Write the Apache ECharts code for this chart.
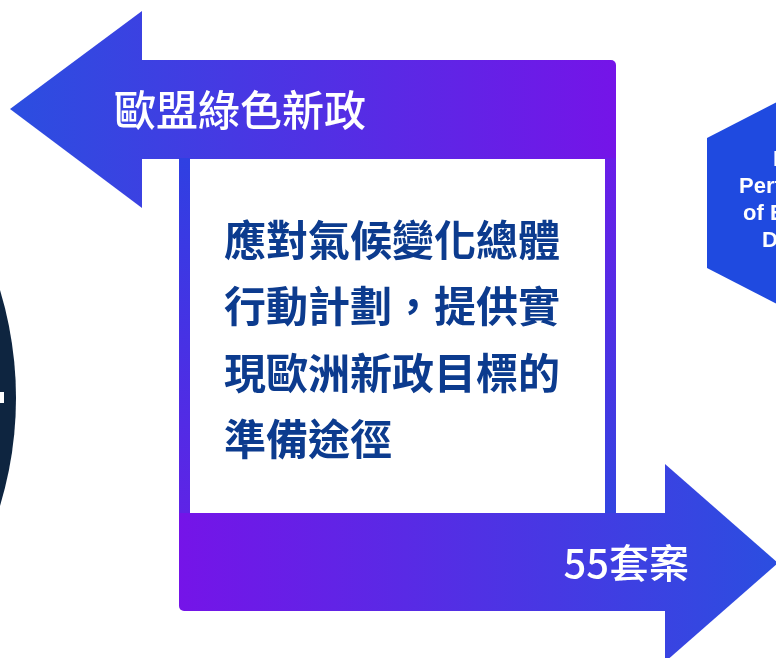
<!DOCTYPE html>
<html>
<head>
<meta charset="utf-8">
<script src="https://cdn.jsdelivr.net/npm/echarts@6/dist/echarts.min.js"></script>
<style>
html,body{margin:0;padding:0;background:#fff;}
#main{width:776px;height:658px;}
</style>
</head>
<body>
<div id="main"></div>
<script>
// ---- content ----
var titleText = '歐盟綠色新政';
var bodyLines = ['應對氣候變化總體', '行動計劃，提供實', '現歐洲新政目標的', '準備途徑'];
var bottomText = '55套案';
var hexLines = ['EU', 'Performance', 'of EU Green', 'Deal'];

var BLUE = '#2b4ee0';
var PURPLE = '#7514e8';
var NAVY = '#0c3b8e';

function grad(x, y, x2, y2, c1, c2) {
  return {type: 'linear', x: x, y: y, x2: x2, y2: y2, global: true,
    colorStops: [{offset: 0, color: c1}, {offset: 1, color: c2}]};
}

var chart = echarts.init(document.getElementById('main'), null, {renderer: 'canvas'});

var elements = [];

// dark circle at left edge
elements.push({type: 'circle', shape: {cx: -356, cy: 398, r: 372}, style: {fill: '#0e2540'}});
elements.push({type: 'rect', shape: {x: 0, y: 392, width: 4, height: 11}, style: {fill: '#ffffff'}});

// hexagon at right
elements.push({type: 'polygon', shape: {points: [[707, 138], [820, 80], [930, 138], [930, 268], [820, 326], [707, 268]]}, style: {fill: '#1f4ae0'}});
var hexX = [773, 739, 743, 762];
var hexY = [160, 187, 214, 241];
hexLines.forEach(function (t, i) {
  elements.push({type: 'text', x: hexX[i], y: hexY[i], style: {text: t, fill: '#fff', font: 'bold 22px "Liberation Sans", Arial, sans-serif', textAlign: 'left', textVerticalAlign: 'middle'}});
});

// top arrow (pointing left)
var topFill = grad(10, 0, 616, 0, BLUE, PURPLE);
elements.push({type: 'polygon', shape: {points: [[10, 109], [142, 11], [142, 208]]}, style: {fill: topFill}});
elements.push({type: 'rect', shape: {x: 141, y: 60, width: 475, height: 99, r: [0, 5, 0, 0]}, style: {fill: topFill}});

// side bars
elements.push({type: 'rect', shape: {x: 179, y: 158, width: 11, height: 356}, style: {fill: grad(0, 159, 0, 513, '#2f40e2', '#5e24e6')}});
elements.push({type: 'rect', shape: {x: 605, y: 158, width: 11, height: 356}, style: {fill: grad(0, 159, 0, 513, '#6a1de8', '#3244e0')}});

// bottom arrow (pointing right)
var botFill = grad(179, 0, 778, 0, PURPLE, BLUE);
elements.push({type: 'rect', shape: {x: 179, y: 513, width: 487, height: 98, r: [0, 0, 0, 5]}, style: {fill: botFill}});
elements.push({type: 'polygon', shape: {points: [[665, 464], [778, 563], [665, 662]]}, style: {fill: botFill}});

// texts
elements.push({type: 'text', x: 114, y: 110, style: {text: titleText, fill: '#fff', font: '500 42px "Noto Sans CJK TC", sans-serif', textAlign: 'left', textVerticalAlign: 'middle'}});
var bodyY = [240, 306, 373, 439];
bodyLines.forEach(function (t, i) {
  elements.push({type: 'text', x: 224, y: bodyY[i], style: {text: t, fill: NAVY, font: 'bold 42px "Noto Sans CJK TC", sans-serif', textAlign: 'left', textVerticalAlign: 'middle'}});
});
elements.push({type: 'text', x: 689, y: 563, style: {text: bottomText, fill: '#fff', font: '500 40px "Noto Sans CJK TC", sans-serif', textAlign: 'right', textVerticalAlign: 'middle'}});

chart.setOption({
  backgroundColor: '#ffffff',
  animation: false,
  graphic: {elements: elements}
});
</script>
</body>
</html>
